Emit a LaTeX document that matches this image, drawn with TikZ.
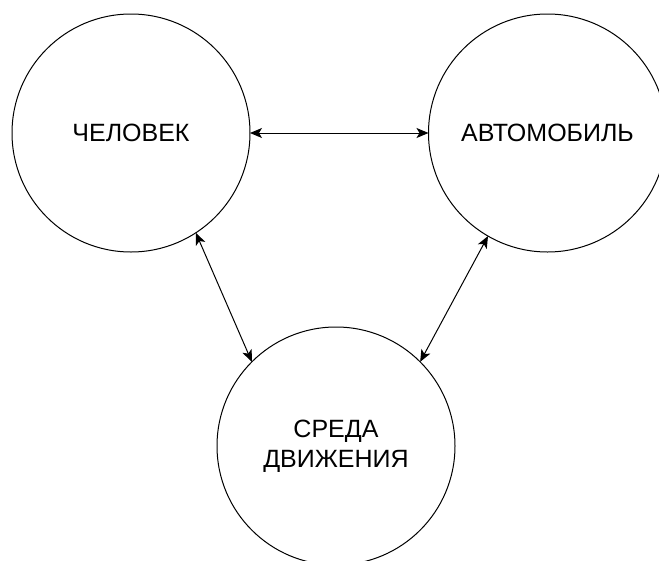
\documentclass[tikz,border=0pt]{standalone}
\usepackage{fontspec}
\setmainfont{Liberation Sans}
\usetikzlibrary{arrows.meta}
\begin{document}
\begin{tikzpicture}[x=1pt,y=-1pt,
  bubble/.style={circle,draw,line width=1pt,minimum size=238pt,inner sep=0pt,outer sep=0pt,font=\fontsize{25}{30}\selectfont,align=center},
  link/.style={line width=1pt,{Stealth[length=12pt,width=10pt,inset=3pt]}-{Stealth[length=12pt,width=10pt,inset=3pt]}}]
\useasboundingbox (0,0) rectangle (659,560);
\node[bubble] (man) at (131,133) {ЧЕЛОВЕК};
\node[bubble] (car) at (547.5,133) {АВТОМОБИЛЬ};
\node[bubble] (env) at (336,446) {СРЕДА\\ДВИЖЕНИЯ};
\draw[link] (man.east) -- (car.west);
\draw[link] (man.-57.4) -- (env.135);
\draw[link] (car.-120) -- (env.45.4);
\end{tikzpicture}
\end{document}
